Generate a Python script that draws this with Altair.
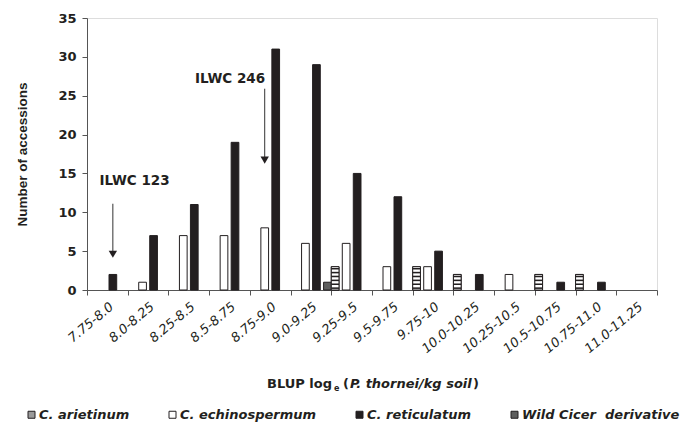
import altair as alt
import pandas as pd

categories = ["7.75-8.0", "8.0-8.25", "8.25-8.5", "8.5-8.75", "8.75-9.0", "9.0-9.25",
              "9.25-9.5", "9.5-9.75", "9.75-10", "10.0-10.25", "10.25-10.5",
              "10.5-10.75", "10.75-11.0", "11.0-11.25"]
species = ["C. arietinum", "C. echinospermum", "C. reticulatum", "Wild Cicer\u00a0 derivative"]
arietinum = [0, 0, 0, 0, 0, 0, 3, 0, 3, 2, 0, 2, 2, 0]
echinospermum = [0, 1, 7, 7, 8, 6, 6, 3, 3, 0, 2, 0, 0, 0]
reticulatum = [2, 7, 11, 19, 31, 29, 15, 12, 5, 2, 0, 1, 1, 0]
wild = [0, 0, 0, 0, 0, 1, 0, 0, 0, 0, 0, 0, 0, 0]
y_ticks = [0, 5, 10, 15, 20, 25, 30, 35]

fills = ["#9a9a9a", "#ffffff", "#231f20", "#5e5e5e"]
INK = "#231f20"

rows = []
for sp, vals in zip(species, [arietinum, echinospermum, reticulatum, wild]):
    for c, v in zip(categories, vals):
        if v > 0:
            rows.append({"cat": c, "species": sp, "count": v})
df = pd.DataFrame(rows)

# horizontal stripes for the C. arietinum pattern
stripes = []
for c, v in zip(categories, arietinum):
    n = int(round(v * 2))
    for k in range(n):
        lo = k * 0.5 + 0.14
        stripes.append({"cat": c, "species": species[0], "lo": lo, "hi": lo + 0.2})
sdf = pd.DataFrame(stripes)

xscale = alt.Scale(domain=categories, paddingInner=0, paddingOuter=0)
oscale = alt.Scale(domain=species, paddingInner=0.3, paddingOuter=0)
yscale = alt.Scale(domain=[0, 35], nice=False)

xaxis = alt.Axis(title=None, labelAngle=-40, labelAlign="right", labelBaseline="top",
                 labelFont="DejaVu Sans", labelFontStyle="italic", labelFontSize=13,
                 labelColor=INK, labelPadding=5, tickBand="extent", tickSize=5,
                 domainColor="#555555", tickColor="#555555", labelOverlap=False)
yaxis = alt.Axis(title="Number of accessions", values=y_ticks, grid=False,
                 labelOverlap=False, tickCount=8,
                 labelFont="DejaVu Sans", labelFontWeight="bold", labelFontSize=13,
                 labelColor=INK, labelPadding=6, tickSize=5, domainColor="#555555",
                 tickColor="#555555", titleFont="Liberation Sans", titleFontSize=13.5,
                 titleFontWeight="bold", titleColor=INK, titlePadding=28)

X = alt.X("cat:N", scale=xscale, axis=xaxis)
XO = alt.XOffset("species:N", scale=oscale)

def Y(field):
    return alt.Y(field, scale=yscale, axis=yaxis)

bars = alt.Chart(df).mark_bar(stroke=INK, strokeWidth=1).encode(
    x=X, xOffset=XO,
    y=Y("count:Q"),
    fill=alt.Fill("species:N", scale=alt.Scale(domain=species, range=fills),
                  legend=alt.Legend(title=None, orient="none", legendX=-62, legendY=390,
                                    direction="horizontal", columns=4, columnPadding=36,
                                    symbolType="square", symbolSize=49,
                                    symbolStrokeColor=INK, symbolStrokeWidth=1,
                                    labelFont="DejaVu Sans", labelFontStyle="italic",
                                    labelFontWeight="bold", labelFontSize=13,
                                    labelOffset=1, labelColor=INK)),
)

ari_bg = alt.Chart(df).transform_filter(
    alt.datum.species == species[0]
).mark_bar(fill="white", stroke=INK, strokeWidth=1).encode(
    x=X, xOffset=XO, y=Y("count:Q")
)

stripe_layer = alt.Chart(sdf).mark_bar(fill=INK).encode(
    x=X, xOffset=XO, y=Y("lo:Q"), y2="hi:Q"
)

# annotations
ann_df = pd.DataFrame([
    {"cat": categories[0], "species": species[2], "y0": 11.1, "y1": 4.9, "tip": 4.6, "label": "ILWC 123"},
    {"cat": categories[4], "species": species[1], "y0": 25.9, "y1": 17.0, "tip": 16.7, "label": "ILWC 246"},
])
arrow_lines = alt.Chart(ann_df).mark_rule(color="#333333", strokeWidth=1).encode(
    x=X, xOffset=XO, y=Y("y0:Q"), y2="y1:Q"
)
arrow_heads = alt.Chart(ann_df).mark_point(shape="triangle-down", filled=True, size=70,
                                           color=INK, opacity=1).encode(
    x=X, xOffset=XO, y=Y("tip:Q")
)

def txt(s, x, y, size=13, style="normal", weight="bold", align="left", baseline="alphabetic"):
    return alt.Chart(pd.DataFrame({"t": [s]})).mark_text(
        font="DejaVu Sans", fontSize=size, fontStyle=style, fontWeight=weight,
        align=align, baseline=baseline, color=INK
    ).encode(x=alt.value(x), y=alt.value(y), text="t:N")

ann1 = txt("ILWC 123", 47.5, 163, size=13.5, baseline="middle", align="center")
ann2 = txt("ILWC 246", 143, 61, size=13.5, baseline="middle", align="center")

# x axis title with subscript and italics
t1 = txt("BLUP log", 180, 370, size=13)
t2 = txt("e", 247, 373, size=8)
t3 = txt("(", 256, 370, size=13)
t4 = txt("P. thornei/kg soil", 263, 370, size=13, style="italic")
t5 = txt(")", 386, 370, size=13)

chart = alt.layer(
    bars, ari_bg, stripe_layer, arrow_lines, arrow_heads, ann1, ann2, t1, t2, t3, t4, t5
).properties(
    width=570, height=272,
    padding={"left": 87, "top": 18, "right": 34, "bottom": 133},
    autosize=alt.AutoSizeParams(type="none"),
).configure_view(stroke=None).configure(background="white")

chart.save("out.html", embed_options={"renderer": "svg", "actions": False})
